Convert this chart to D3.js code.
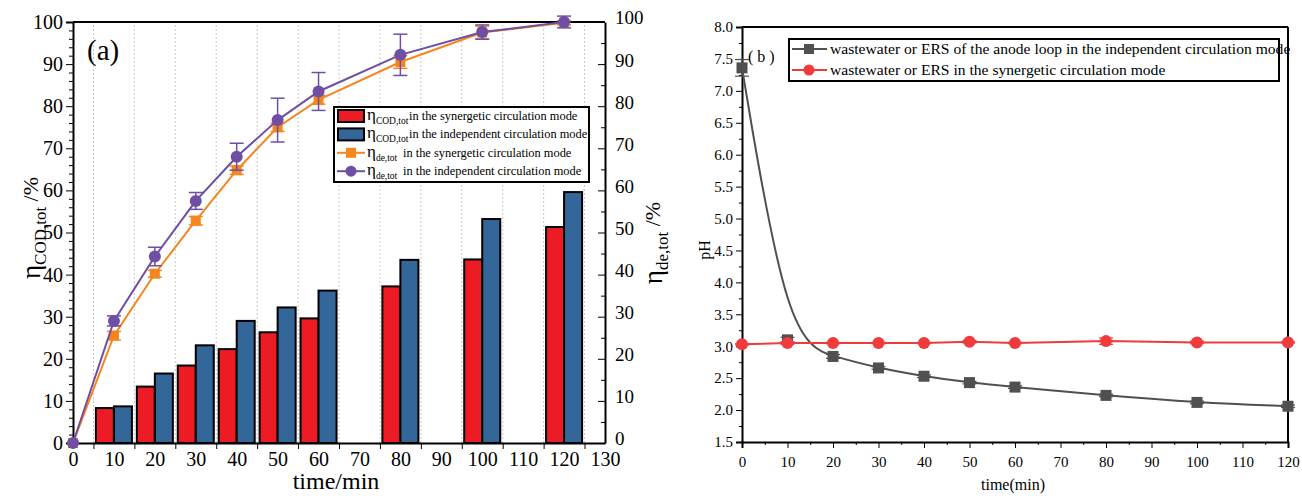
<!DOCTYPE html>
<html lang="en">
<head>
<meta charset="utf-8">
<title>COD and pH</title>
<script src="https://cdn.jsdelivr.net/npm/d3@7"></script>
<style>
    body { margin: 0; background: #fff; }
    .axis path, .axis line { stroke: #000; }
</style>
</head>
<body>
<svg id="chart" width="1302" height="496"></svg>
<script>
// ---- panel (a) data ----
const barTimes = [10, 20, 30, 40, 50, 60, 80, 100, 120];
const codSyn = [8.3, 13.4, 18.4, 22.3, 26.3, 29.6, 37.2, 43.6, 51.3];
const codInd = [8.7, 16.5, 23.2, 29.0, 32.2, 36.2, 43.5, 53.2, 59.6];
const lineTimes = [0, 10, 20, 30, 40, 50, 60, 80, 100, 120];
const deSyn = [0, 25.5, 40.2, 52.8, 64.8, 75.0, 81.5, 90.5, 97.5, 99.8];
const deSynErr = [0, 1.0, 0.8, 1.0, 1.0, 1.0, 1.0, 1.5, 1.5, 0.5];
const deInd = [0, 29.0, 44.3, 57.5, 68.0, 76.7, 83.5, 92.2, 97.6, 100.0];
const deIndErr = [0, 1.2, 2.2, 2.0, 3.2, 5.2, 4.5, 4.9, 1.7, 1.4];
const xTicksA = [0, 10, 20, 30, 40, 50, 60, 70, 80, 90, 100, 110, 120, 130];
const gridA = [5, 15, 25, 35, 45, 55, 65, 75, 85, 95, 105, 115, 125];

// ---- panel (b) data ----
const phTimes = [0, 10, 20, 30, 40, 50, 60, 80, 100, 120];
const phInd = [7.36, 3.10, 2.84, 2.66, 2.53, 2.43, 2.36, 2.23, 2.12, 2.06];
const phIndErr = [0.13, 0.04, 0.03, 0.02, 0.02, 0.02, 0.02, 0.02, 0.02, 0.02];
const phSyn = [3.03, 3.05, 3.05, 3.05, 3.05, 3.07, 3.05, 3.08, 3.06, 3.06];
const phSynErr = [0.01, 0.02, 0.01, 0.01, 0.01, 0.02, 0.01, 0.05, 0.02, 0.01];

const RED = "#ed1c24", BLUE = "#336699", ORANGE = "#f7851e", PURPLE = "#6f4fa3";
const GRAY = "#505050", PRED = "#ef3b3b";

const svg = d3.select("#chart");

// ================= panel (a) =================
const xa = d3.scaleLinear().domain([0, 130]).range([73, 605]);
const ya = d3.scaleLinear().domain([0, 100]).range([443, 22]);
const ga = svg.append("g");

ga.selectAll(".grid").data(gridA).enter().append("line")
    .attr("x1", d => xa(d)).attr("x2", d => xa(d))
    .attr("y1", ya(0)).attr("y2", ya(100))
    .attr("stroke", "#c8c8c8").attr("stroke-width", 1).attr("stroke-dasharray", "2,2");

// bars
const bw = xa(4.4) - xa(0);
ga.selectAll(".barS").data(barTimes).enter().append("rect")
    .attr("x", d => xa(d) - bw).attr("width", bw)
    .attr("y", (d, i) => ya(codSyn[i])).attr("height", (d, i) => ya(0) - ya(codSyn[i]))
    .attr("fill", RED).attr("stroke", "#000").attr("stroke-width", 2);
ga.selectAll(".barI").data(barTimes).enter().append("rect")
    .attr("x", d => xa(d)).attr("width", bw)
    .attr("y", (d, i) => ya(codInd[i])).attr("height", (d, i) => ya(0) - ya(codInd[i]))
    .attr("fill", BLUE).attr("stroke", "#000").attr("stroke-width", 2);

// axes
const leftA = ga.append("g").attr("class", "axis").attr("transform", `translate(${xa(0)},0)`)
    .call(d3.axisLeft(ya).tickValues(d3.range(0, 101, 10)).tickSize(7).tickPadding(3));
leftA.selectAll("text").style("font-size", "20px");
ga.append("g").attr("class", "axis").attr("transform", `translate(${xa(0)},0)`)
    .call(d3.axisLeft(ya).tickValues(d3.range(0, 101, 2).filter(v => v % 10)).tickSize(4).tickFormat(""))
    .select(".domain").remove();
leftA.select(".domain").attr("stroke-width", 2);

const rightA = ga.append("g").attr("class", "axis").attr("transform", `translate(${xa(130)},0)`)
    .call(d3.axisRight(ya).tickValues(d3.range(0, 101, 10)).tickSizeInner(-7).tickSizeOuter(0).tickPadding(10));
rightA.selectAll("text").style("font-size", "19px").attr("dy", "0.1em");
rightA.select(".domain").attr("stroke-width", 2);
ga.append("g").attr("class", "axis").attr("transform", `translate(${xa(130)},0)`)
    .call(d3.axisRight(ya).tickValues(d3.range(5, 100, 10)).tickSize(-4).tickFormat(""))
    .select(".domain").remove();

const botA = ga.append("g").attr("class", "axis").attr("transform", `translate(0,${ya(0)})`)
    .call(d3.axisBottom(xa).tickValues(xTicksA).tickSize(0).tickPadding(9));
botA.selectAll("text").style("font-size", "20px");
botA.select(".domain").attr("stroke-width", 2);
ga.append("g").attr("class", "axis").attr("transform", `translate(0,${ya(0)})`)
    .call(d3.axisBottom(xa).tickValues(gridA).tickSize(6).tickFormat(""))
    .select(".domain").remove();
ga.append("line").attr("x1", xa(0)).attr("x2", xa(130)).attr("y1", ya(100)).attr("y2", ya(100))
    .attr("stroke", "#000").attr("stroke-width", 2);

// lines with error bars
function seriesA(vals, errs, color, marker) {
    const line = d3.line().x((d, i) => xa(lineTimes[i])).y(d => ya(d));
    ga.append("path").datum(vals).attr("d", line)
        .attr("fill", "none").attr("stroke", color).attr("stroke-width", 2);
    const eg = ga.append("g").attr("stroke", color).attr("stroke-width", 1.5);
    vals.forEach((v, i) => {
        if (!errs[i]) return;
        const x = xa(lineTimes[i]);
        eg.append("line").attr("x1", x).attr("x2", x).attr("y1", ya(v - errs[i])).attr("y2", ya(v + errs[i]));
        [v - errs[i], v + errs[i]].forEach(e => eg.append("line")
            .attr("x1", x - 7).attr("x2", x + 7).attr("y1", ya(e)).attr("y2", ya(e)));
    });
    vals.forEach((v, i) => {
        const x = xa(lineTimes[i]), y = ya(v);
        if (marker === "square") {
            ga.append("rect").attr("x", x - 5).attr("y", y - 5).attr("width", 10).attr("height", 10).attr("fill", color);
        } else {
            ga.append("circle").attr("cx", x).attr("cy", y).attr("r", 6).attr("fill", color);
        }
    });
}
seriesA(deSyn, deSynErr, ORANGE, "square");
seriesA(deInd, deIndErr, PURPLE, "circle");

ga.append("text").attr("x", 87).attr("y", 60).style("font-size", "29px").text("(a)");

// axis titles
const ytA = ga.append("text").attr("transform", "translate(40,228) rotate(-90)")
    .attr("text-anchor", "middle").style("font-size", "27px");
ytA.append("tspan").text("η");
ytA.append("tspan").attr("dy", 6).style("font-size", "17px").text("COD,tot");
ytA.append("tspan").attr("dy", -8).style("font-size", "22px").text(" /%");
const ytA2 = ga.append("text").attr("transform", "translate(662,243) rotate(-90)")
    .attr("text-anchor", "middle").style("font-size", "27px");
ytA2.append("tspan").text("η");
ytA2.append("tspan").attr("dy", 6).style("font-size", "17px").text("de,tot");
ytA2.append("tspan").attr("dy", -8).style("font-size", "22px").text(" /%");
ga.append("text").attr("x", 336).attr("y", 489).attr("text-anchor", "middle")
    .style("font-size", "24px").text("time/min");

// legend (a)
const lgA = ga.append("g");
lgA.append("rect").attr("x", 334).attr("y", 107).attr("width", 255).attr("height", 75)
    .attr("fill", "#fff").attr("stroke", "#000").attr("stroke-width", 2);
const legA = [
    {type: "bar", color: RED, sub: "COD,tot", text: "in the synergetic circulation mode"},
    {type: "bar", color: BLUE, sub: "COD,tot", text: "in the independent circulation mode"},
    {type: "square", color: ORANGE, sub: "de,tot", text: "in the synergetic circulation mode"},
    {type: "circle", color: PURPLE, sub: "de,tot", text: "in the independent circulation mode"}
];
legA.forEach((d, i) => {
    const cy = 116 + i * 18.4;
    if (d.type === "bar") {
        lgA.append("rect").attr("x", 338).attr("y", cy - 6).attr("width", 26).attr("height", 12)
            .attr("fill", d.color).attr("stroke", "#000").attr("stroke-width", 2);
    } else {
        lgA.append("line").attr("x1", 337).attr("x2", 365).attr("y1", cy).attr("y2", cy)
            .attr("stroke", d.color).attr("stroke-width", 2);
        if (d.type === "square") lgA.append("rect").attr("x", 346).attr("y", cy - 5).attr("width", 10).attr("height", 10).attr("fill", d.color);
        else lgA.append("circle").attr("cx", 351).attr("cy", cy).attr("r", 5.5).attr("fill", d.color);
    }
    const t = lgA.append("text").attr("x", 367).attr("y", cy + 4).style("font-size", "17px");
    t.append("tspan").text("η");
    t.append("tspan").attr("dy", 4).style("font-size", "9.5px").text(d.sub);
    lgA.append("text").attr("x", d.type === "bar" ? 409 : 403).attr("y", cy + 4)
        .style("font-size", "12.4px").text(d.text);
});

// ================= panel (b) =================
const xb = d3.scaleLinear().domain([0, 120]).range([742, 1288]);
const yb = d3.scaleLinear().domain([1.5, 8.0]).range([442, 27]);
const gb = svg.append("g");

const leftB = gb.append("g").attr("class", "axis").attr("transform", `translate(${xb(0)},0)`)
    .call(d3.axisLeft(yb).tickValues(d3.range(1.5, 8.01, 0.5)).tickFormat(d3.format(".1f")).tickSize(6).tickPadding(3));
leftB.selectAll("text").style("font-size", "15px");
leftB.select(".domain").attr("stroke-width", 2);
gb.append("g").attr("class", "axis").attr("transform", `translate(${xb(0)},0)`)
    .call(d3.axisLeft(yb).tickValues(d3.range(1.75, 8, 0.5)).tickSize(3).tickFormat(""))
    .select(".domain").remove();

const botB = gb.append("g").attr("class", "axis").attr("transform", `translate(0,${yb(1.5)})`)
    .call(d3.axisBottom(xb).tickValues(d3.range(0, 121, 10)).tickSize(6).tickPadding(8));
botB.selectAll("text").style("font-size", "15px");
botB.select(".domain").attr("stroke-width", 2);
gb.append("g").attr("class", "axis").attr("transform", `translate(0,${yb(1.5)})`)
    .call(d3.axisBottom(xb).tickValues(d3.range(5, 120, 10)).tickSize(3).tickFormat(""))
    .select(".domain").remove();
gb.append("line").attr("x1", xb(0)).attr("x2", xb(120)).attr("y1", yb(8)).attr("y2", yb(8))
    .attr("stroke", "#000").attr("stroke-width", 2);
gb.append("line").attr("x1", xb(120)).attr("x2", xb(120)).attr("y1", yb(8)).attr("y2", yb(1.5))
    .attr("stroke", "#000").attr("stroke-width", 2);

function seriesB(vals, errs, color, marker, curve) {
    const line = d3.line().x((d, i) => xb(phTimes[i])).y(d => yb(d)).curve(curve);
    gb.append("path").datum(vals).attr("d", line)
        .attr("fill", "none").attr("stroke", color).attr("stroke-width", 2);
    const eg = gb.append("g").attr("stroke", color).attr("stroke-width", 1.2);
    vals.forEach((v, i) => {
        const x = xb(phTimes[i]);
        eg.append("line").attr("x1", x).attr("x2", x).attr("y1", yb(v - errs[i])).attr("y2", yb(v + errs[i]));
        [v - errs[i], v + errs[i]].forEach(e => eg.append("line")
            .attr("x1", x - 7).attr("x2", x + 7).attr("y1", yb(e)).attr("y2", yb(e)));
    });
    vals.forEach((v, i) => {
        const x = xb(phTimes[i]), y = yb(v);
        if (marker === "square") {
            gb.append("rect").attr("x", x - 5.5).attr("y", y - 5.5).attr("width", 11).attr("height", 11).attr("fill", color);
        } else {
            gb.append("circle").attr("cx", x).attr("cy", y).attr("r", 6).attr("fill", color);
        }
    });
}
seriesB(phInd, phIndErr, GRAY, "square", d3.curveBasis);
seriesB(phSyn, phSynErr, PRED, "circle", d3.curveLinear);

gb.append("text").attr("x", 748).attr("y", 62).style("font-size", "16px").text("( b )");
gb.append("text").attr("transform", "translate(710,250) rotate(-90)")
    .attr("text-anchor", "middle").style("font-size", "16px").text("pH");
gb.append("text").attr("x", 1013).attr("y", 490).attr("text-anchor", "middle")
    .style("font-size", "16px").text("time(min)");

// legend (b)
const lgB = gb.append("g");
lgB.append("rect").attr("x", 789).attr("y", 39).attr("width", 490).attr("height", 42)
    .attr("fill", "#fff").attr("stroke", "#000").attr("stroke-width", 2);
const legB = [
    {color: GRAY, marker: "square", text: "wastewater or ERS of the anode loop in the independent circulation mode"},
    {color: PRED, marker: "circle", text: "wastewater or ERS in the synergetic circulation mode"}
];
legB.forEach((d, i) => {
    const cy = 49 + i * 21;
    lgB.append("line").attr("x1", 792).attr("x2", 827).attr("y1", cy).attr("y2", cy)
        .attr("stroke", d.color).attr("stroke-width", 2);
    if (d.marker === "square") lgB.append("rect").attr("x", 804).attr("y", cy - 5).attr("width", 10).attr("height", 10).attr("fill", d.color);
    else lgB.append("circle").attr("cx", 809).attr("cy", cy).attr("r", 5.5).attr("fill", d.color);
    lgB.append("text").attr("x", 830).attr("y", cy + 5).style("font-size", "15.6px").text(d.text);
});

// serif everywhere (inline style beats the axis font attribute)
svg.selectAll("text").style("font-family", '"Liberation Serif"').attr("fill", "#000");
</script>
</body>
</html>
